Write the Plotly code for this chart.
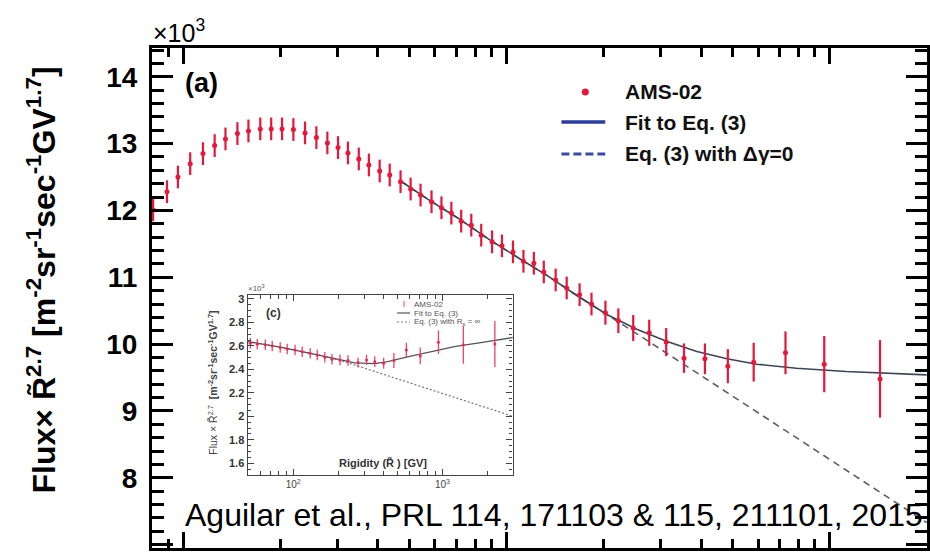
import plotly.graph_objects as go

# ---------------- main panel (a) data ----------------
rig_a = [8.06, 8.9, 9.62, 10.5, 11.5, 12.5, 13.5, 14.7, 15.9, 17.3,
         18.7, 20.2, 21.9, 23.8, 25.8, 27.9, 30.1, 32.3, 34.9, 37.5,
         40.5, 43.5, 47.0, 50.5, 54.2, 58.6, 62.9, 67.5, 72.4, 77.8,
         83.5, 90.2, 96.8, 104.7, 112.8, 121.5, 130.4, 141.9, 153.5, 168.3,
         183.2, 202.3, 221.8, 246.6, 276.4, 311.9, 354.1, 411.0, 483.9, 581.7,
         729.7, 961.6, 1431]
flux_a = [12.01, 12.28, 12.50, 12.70, 12.85, 12.97, 13.07, 13.15, 13.19, 13.22,
          13.22, 13.22, 13.21, 13.16, 13.09, 13.01, 12.94, 12.86, 12.77, 12.68,
          12.59, 12.53, 12.43, 12.32, 12.23, 12.13, 12.04, 11.96, 11.84, 11.78,
          11.63, 11.53, 11.47, 11.38, 11.24, 11.21, 11.08, 10.96, 10.84, 10.74,
          10.60, 10.47, 10.35, 10.24, 10.17, 10.03, 9.79, 9.78, 9.67, 9.73,
          9.87, 9.70, 9.48]
err_a = [0.17, 0.17, 0.17, 0.17, 0.17, 0.17, 0.17, 0.17, 0.17, 0.17,
         0.17, 0.17, 0.17, 0.17, 0.17, 0.17, 0.17, 0.17, 0.17, 0.17,
         0.17, 0.17, 0.17, 0.17, 0.17, 0.17, 0.17, 0.17, 0.17, 0.17,
         0.17, 0.17, 0.17, 0.17, 0.17, 0.17, 0.17, 0.17, 0.17, 0.17,
         0.17, 0.18, 0.185, 0.195, 0.195, 0.21, 0.22, 0.23, 0.255, 0.29,
         0.32, 0.42, 0.58]

fit_a_r = [47, 57, 71, 88, 108, 134, 166, 205, 254, 314, 388, 481, 594, 789, 1125, 1605, 1995]
fit_a_v = [12.44, 12.17, 11.88, 11.57, 11.30, 11.02, 10.72, 10.44, 10.22, 10.04, 9.89, 9.78, 9.70, 9.64, 9.59, 9.56, 9.54]
nobreak_a_r = [47, 57, 71, 88, 108, 134, 166, 205, 254, 314, 388, 481, 594, 789, 1125, 1605, 1995]
nobreak_a_v = [12.44, 12.17, 11.88, 11.57, 11.30, 11.02, 10.72, 10.44, 10.15, 9.86, 9.57, 9.27, 8.98, 8.60, 8.11, 7.63, 7.33]

# ---------------- inset panel (c) data ----------------
rig_c = [51.7, 57.5, 65.1, 72.4, 81.9, 91.2, 103, 115, 130, 145,
         163, 182, 206, 233, 272, 310, 352, 404, 473, 573,
         710, 940, 1380, 2245]
flux_c = [2.623, 2.614, 2.609, 2.600, 2.586, 2.574, 2.566, 2.551, 2.538, 2.523,
          2.504, 2.487, 2.481, 2.475, 2.458, 2.481, 2.466, 2.453, 2.475, 2.566,
          2.515, 2.631, 2.609, 2.617]
err_c = [0.045, 0.045, 0.045, 0.045, 0.045, 0.045, 0.045, 0.045, 0.045, 0.045,
         0.045, 0.045, 0.045, 0.045, 0.042, 0.043, 0.045, 0.047, 0.064, 0.060,
         0.071, 0.100, 0.160, 0.196]
fit_c_r = [50, 82, 151, 259, 352, 430, 573, 721, 1202, 1995, 2972]
fit_c_v = [2.636, 2.59, 2.52, 2.455, 2.45, 2.466, 2.504, 2.532, 2.594, 2.636, 2.672]
nobreak_c_r = [50, 82, 151, 206, 2972]
nobreak_c_v = [2.636, 2.59, 2.52, 2.478, 2.0]

main_minor_x = [8, 9, 20, 30, 40, 50, 60, 70, 80, 90, 200, 300, 400, 500, 600, 700, 800, 900]
inset_minor_x = [50, 60, 70, 80, 90, 200, 300, 400, 500, 600, 700, 800, 900, 2000]

RED = "#e5173b"
FONT = "Liberation Sans, Arial, sans-serif"

W, H = 930, 553
L, R, T, B = 152, 0, 48, 5


def PX(x):
    return (x - L) / (W - L - R)


def PY(y):
    return (H - B - y) / (H - T - B)


fig = go.Figure()

# main panel lines
fig.add_trace(go.Scatter(x=nobreak_a_r, y=nobreak_a_v, mode="lines",
                         line=dict(color="#5a5f6a", width=1.6, dash="7px,5px"),
                         showlegend=False, xaxis="x", yaxis="y"))
fig.add_trace(go.Scatter(x=fit_a_r, y=fit_a_v, mode="lines",
                         line=dict(color="#3d4456", width=1.6),
                         showlegend=False, xaxis="x", yaxis="y"))
fig.add_trace(go.Scatter(x=rig_a, y=flux_a, mode="markers",
                         marker=dict(color=RED, size=5),
                         error_y=dict(type="data", array=err_a, color=RED, thickness=2.2, width=0),
                         showlegend=False, xaxis="x", yaxis="y", cliponaxis=True))

# inset lines and points
fig.add_trace(go.Scatter(x=nobreak_c_r, y=nobreak_c_v, mode="lines",
                         line=dict(color="#777", width=1.2, dash="2px,2px"),
                         showlegend=False, xaxis="x2", yaxis="y2"))
fig.add_trace(go.Scatter(x=fit_c_r, y=fit_c_v, mode="lines",
                         line=dict(color="#555", width=1.3),
                         showlegend=False, xaxis="x2", yaxis="y2"))
fig.add_trace(go.Scatter(x=rig_c, y=flux_c, mode="markers",
                         marker=dict(color="#e8284f", size=3),
                         error_y=dict(type="data", array=err_c, color="#f0406a", thickness=1.3, width=0),
                         showlegend=False, xaxis="x2", yaxis="y2"))

axis_common = dict(showgrid=False, zeroline=False, ticks="inside", mirror="ticks",
                   showline=True, linecolor="black", tickcolor="black")

fig.update_layout(
    width=W, height=H,
    margin=dict(l=L, r=R, t=T, b=B, pad=0),
    paper_bgcolor="white", plot_bgcolor="white",
    showlegend=False,
    font=dict(family=FONT, color="black"),
    xaxis=dict(type="log", range=[0.903, 3.301], domain=[0, 1], anchor="y",
               showticklabels=False, ticklen=16, tickwidth=3, linewidth=3,
               tickvals=[10, 100, 1000],
               minor=dict(tickvals=main_minor_x, ticklen=9, tickwidth=3, ticks="inside",
                          tickcolor="black"),
               **axis_common),
    yaxis=dict(range=[6.95, 14.43], domain=[0, 1], anchor="x",
               dtick=1, tick0=0, ticklen=21, tickwidth=3, linewidth=3,
               tickfont=dict(size=28, family=FONT, weight="bold", color="black"),
               ticklabelstandoff=6,
               minor=dict(dtick=0.2, tick0=0, ticklen=12, tickwidth=3, ticks="inside",
                          tickcolor="black"),
               **axis_common),
    xaxis2=dict(type="log", range=[1.695, 3.47], domain=[PX(248), PX(514)], anchor="y2",
                tickvals=[100, 1000], ticktext=["10<sup>2</sup>", "10<sup>3</sup>"],
                ticklen=6, tickwidth=1, linewidth=1.3, linecolor="#444", tickcolor="#444",
                tickfont=dict(size=10, family=FONT, color="#444"),
                minor=dict(tickvals=inset_minor_x, ticklen=3.5, tickwidth=1, ticks="inside",
                           tickcolor="#444"),
                showgrid=False, zeroline=False, ticks="inside", mirror="ticks", showline=True),
    yaxis2=dict(range=[1.5, 3.034], domain=[PY(475), PY(295)], anchor="x2",
                dtick=0.2, tick0=0, ticklen=6, tickwidth=1, linewidth=1.3,
                linecolor="#444", tickcolor="#444",
                tickfont=dict(size=11, family=FONT, weight="bold", color="#333"),
                minor=dict(dtick=0.05, tick0=0, ticklen=3.5, tickwidth=1, ticks="inside",
                           tickcolor="#444"),
                showgrid=False, zeroline=False, ticks="inside", mirror="ticks", showline=True),
)

ann = []
# main axis title
ann.append(dict(x=PX(41), y=PY(280), xref="paper", yref="paper", textangle=-90,
                text="<b>Flux\u00d7 R\u0303<sup>2.7</sup> [m<sup>-2</sup>sr<sup>-1</sup>sec<sup>-1</sup>GV<sup>1.7</sup>]</b>",
                font=dict(size=32, family=FONT, color="black"), showarrow=False,
                xanchor="center", yanchor="middle"))
# x10^3
ann.append(dict(x=PX(151), y=PY(49), xref="paper", yref="paper",
                text="\u00d710<sup>3</sup>", font=dict(size=25, family=FONT, color="black"),
                showarrow=False, xanchor="left", yanchor="bottom"))
# (a)
ann.append(dict(x=PX(183), y=PY(83), xref="paper", yref="paper",
                text="<b>(a)</b>", font=dict(size=27, family=FONT, color="black"),
                showarrow=False, xanchor="left", yanchor="middle"))
# legend texts
for txt, yy in [("AMS-02", 92), ("Fit to Eq. (3)", 122), ("Eq. (3) with \u0394\u03b3=0", 153)]:
    ann.append(dict(x=PX(625), y=PY(yy), xref="paper", yref="paper",
                    text="<b>" + txt + "</b>", font=dict(size=21, family=FONT, color="#111"),
                    showarrow=False, xanchor="left", yanchor="middle"))
# citation
ann.append(dict(x=PX(183), y=PY(515), xref="paper", yref="paper",
                text="Aguilar et al., PRL 114, 171103 &amp; 115, 211101, 2015",
                font=dict(size=32, family=FONT, color="black"),
                showarrow=False, xanchor="left", yanchor="middle"))

# inset texts
ann.append(dict(x=PX(246), y=PY(288), xref="paper", yref="paper",
                text="\u00d710<sup>3</sup>", font=dict(size=8, family=FONT, color="#555"),
                showarrow=False, xanchor="left", yanchor="middle"))
ann.append(dict(x=PX(264), y=PY(313), xref="paper", yref="paper",
                text="<b>(c)</b>", font=dict(size=12, family=FONT, color="#333"),
                showarrow=False, xanchor="left", yanchor="middle"))
for txt, yy in [("AMS-02", 304), ("Fit to Eq. (3)", 313), ("Eq. (3) with R<sub>s</sub> = \u221e", 322)]:
    ann.append(dict(x=PX(413), y=PY(yy), xref="paper", yref="paper",
                    text=txt, font=dict(size=8, family=FONT, color="#555"),
                    showarrow=False, xanchor="left", yanchor="middle"))
ann.append(dict(x=PX(384), y=PY(463), xref="paper", yref="paper",
                text="<b>Rigidity (R\u0303 ) [GV]</b>", font=dict(size=11, family=FONT, color="#333"),
                showarrow=False, xanchor="center", yanchor="middle"))
ann.append(dict(x=PX(213), y=PY(383), xref="paper", yref="paper", textangle=-90,
                text="Flux \u00d7 R\u0303<sup>2.7</sup>  <b>[m<sup>-2</sup>sr<sup>-1</sup>sec<sup>-1</sup>GV<sup>1.7</sup>]</b>",
                font=dict(size=10.5, family=FONT, color="#444"),
                showarrow=False, xanchor="center", yanchor="middle"))

fig.update_layout(annotations=ann)

shapes = []
# main legend samples
shapes.append(dict(type="circle", xref="paper", yref="paper",
                   x0=PX(583.5), x1=PX(590.5), y0=PY(95.5), y1=PY(88.5),
                   fillcolor=RED, line=dict(width=0)))
shapes.append(dict(type="line", xref="paper", yref="paper",
                   x0=PX(563), x1=PX(607), y0=PY(122), y1=PY(122),
                   line=dict(color="#2b3d96", width=3.5)))
shapes.append(dict(type="line", xref="paper", yref="paper",
                   x0=PX(563), x1=PX(607), y0=PY(154), y1=PY(154),
                   line=dict(color="#3b4a9c", width=3, dash="8px,4px")))
# inset legend samples
shapes.append(dict(type="line", xref="paper", yref="paper",
                   x0=PX(405), x1=PX(405), y0=PY(301), y1=PY(307),
                   line=dict(color="#f0406a", width=1)))
shapes.append(dict(type="line", xref="paper", yref="paper",
                   x0=PX(398), x1=PX(411), y0=PY(313), y1=PY(313),
                   line=dict(color="#555", width=1.2)))
shapes.append(dict(type="line", xref="paper", yref="paper",
                   x0=PX(398), x1=PX(411), y0=PY(322), y1=PY(322),
                   line=dict(color="#777", width=1.2, dash="2px,2px")))
fig.update_layout(shapes=shapes)

fig.write_html("out.html")
